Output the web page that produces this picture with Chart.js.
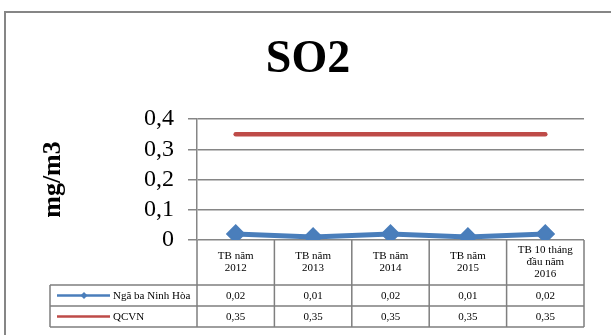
<!DOCTYPE html>
<html>
<head>
<meta charset="utf-8">
<script src="https://cdn.jsdelivr.net/npm/chart.js@4/dist/chart.umd.min.js"></script>
<style>
  html, body { margin: 0; padding: 0; background: #fff; }
  canvas { display: block; }
</style>
</head>
<body>
<canvas id="so2Chart" width="611" height="335"></canvas>
<script>
const categories = [
  ["TB năm", "2012"],
  ["TB năm", "2013"],
  ["TB năm", "2014"],
  ["TB năm", "2015"],
  ["TB 10 tháng", "đầu năm", "2016"],
];
const ninhHoaValues = [0.02, 0.01, 0.02, 0.01, 0.02];
const qcvnValues = [0.35, 0.35, 0.35, 0.35, 0.35];
const ninhHoaLabels = ["0,02", "0,01", "0,02", "0,01", "0,02"];
const qcvnLabels = ["0,35", "0,35", "0,35", "0,35", "0,35"];
const yTickLabels = ["0", "0,1", "0,2", "0,3", "0,4"];

const serif = "'Liberation Serif', 'Times New Roman', serif";
const gridGray = "#868686";
const tableGray = "#7f7f7f";

// outer frame of the chart object
const framePlugin = {
  id: "frame",
  beforeDraw(chart) {
    const ctx = chart.ctx;
    ctx.save();
    ctx.strokeStyle = gridGray;
    ctx.lineWidth = 2;
    ctx.strokeRect(5, 12, chart.width + 20, chart.height + 20);
    ctx.restore();
  },
};

// Excel-style data table under the plot
const dataTablePlugin = {
  id: "dataTable",
  afterDraw(chart) {
    const ctx = chart.ctx;
    const x = chart.scales.x;
    const area = chart.chartArea;
    const colW = x.getPixelForValue(1) - x.getPixelForValue(0);
    const left = area.left;
    const right = area.right;
    const legendLeft = 50;
    const headTop = area.bottom;
    const headBottom = headTop + 45;
    const row1Bottom = headBottom + 21;
    const row2Bottom = row1Bottom + 21;

    ctx.save();
    ctx.strokeStyle = tableGray;
    ctx.lineWidth = 1.5;
    ctx.beginPath();
    // horizontals
    ctx.moveTo(legendLeft, headBottom); ctx.lineTo(right, headBottom);
    ctx.moveTo(legendLeft, row1Bottom); ctx.lineTo(right, row1Bottom);
    ctx.moveTo(legendLeft, row2Bottom); ctx.lineTo(right, row2Bottom);
    // verticals
    ctx.moveTo(legendLeft, headBottom); ctx.lineTo(legendLeft, row2Bottom);
    for (let i = 0; i <= categories.length; i++) {
      const px = left + i * colW;
      ctx.moveTo(px, headTop); ctx.lineTo(px, row2Bottom);
    }
    ctx.stroke();

    ctx.fillStyle = "#000";
    ctx.font = "11px " + serif;
    ctx.textAlign = "center";
    ctx.textBaseline = "middle";
    categories.forEach((lines, i) => {
      const cx = x.getPixelForValue(i);
      const mid = (headTop + headBottom) / 2;
      const start = mid - ((lines.length - 1) * 12) / 2;
      lines.forEach((t, j) => ctx.fillText(t, cx, start + j * 12));
      ctx.fillText(ninhHoaLabels[i], cx, (headBottom + row1Bottom) / 2 + 1);
      ctx.fillText(qcvnLabels[i], cx, (row1Bottom + row2Bottom) / 2 + 1);
    });

    // legend keys
    const rows = [(headBottom + row1Bottom) / 2, (row1Bottom + row2Bottom) / 2];
    chart.data.datasets.forEach((ds, i) => {
      const y = rows[i];
      ctx.strokeStyle = ds.borderColor;
      ctx.lineWidth = 2.5;
      ctx.beginPath();
      ctx.moveTo(57, y); ctx.lineTo(110, y);
      ctx.stroke();
      if (ds.pointRadius > 0) {
        ctx.fillStyle = ds.borderColor;
        ctx.beginPath();
        ctx.moveTo(84, y - 3.5); ctx.lineTo(87.5, y);
        ctx.lineTo(84, y + 3.5); ctx.lineTo(80.5, y);
        ctx.closePath();
        ctx.fill();
      }
      ctx.fillStyle = "#000";
      ctx.textAlign = "left";
      ctx.fillText(ds.label, 113, y + 1);
    });
    ctx.restore();
  },
};

new Chart(document.getElementById("so2Chart"), {
  type: "line",
  data: {
    labels: categories,
    datasets: [
      {
        label: "Ngã ba Ninh Hòa",
        data: ninhHoaValues,
        borderColor: "#4a7ebb",
        backgroundColor: "#4a7ebb",
        borderWidth: 5,
        pointStyle: "rectRot",
        pointRadius: 8.5,
        pointBorderWidth: 2,
        tension: 0,
      },
      {
        label: "QCVN",
        data: qcvnValues,
        borderColor: "#be4b48",
        backgroundColor: "#be4b48",
        borderWidth: 4.5,
        borderCapStyle: "round",
        pointRadius: 0,
        tension: 0,
      },
    ],
  },
  options: {
    responsive: false,
    animation: false,
    layout: { padding: { top: 33, right: 27, bottom: 95, left: 32 } },
    plugins: {
      legend: { display: false },
      tooltip: { enabled: false },
      title: {
        display: true,
        text: "SO2",
        color: "#000",
        font: { family: serif, size: 46, weight: "bold", lineHeight: 1.2 },
        padding: { top: 0, bottom: 30.8 },
      },
    },
    scales: {
      x: {
        display: false,
        offset: true,
      },
      y: {
        min: 0,
        max: 0.4,
        afterFit(scale) { scale.width = 165; },
        ticks: {
          stepSize: 0.1,
          autoSkip: false,
          padding: 14,
          color: "#000",
          font: { family: serif, size: 24 },
          callback: (v, i) => yTickLabels[i],
        },
        grid: { color: gridGray, lineWidth: 1.5, tickLength: 9 },
        border: { color: gridGray, width: 1.5 },
        title: {
          display: true,
          text: "mg/m3",
          color: "#000",
          font: { family: serif, size: 26, weight: "bold" },
          padding: { top: 6, bottom: 0 },
        },
      },
    },
  },
  plugins: [framePlugin, dataTablePlugin],
});
</script>
</body>
</html>
